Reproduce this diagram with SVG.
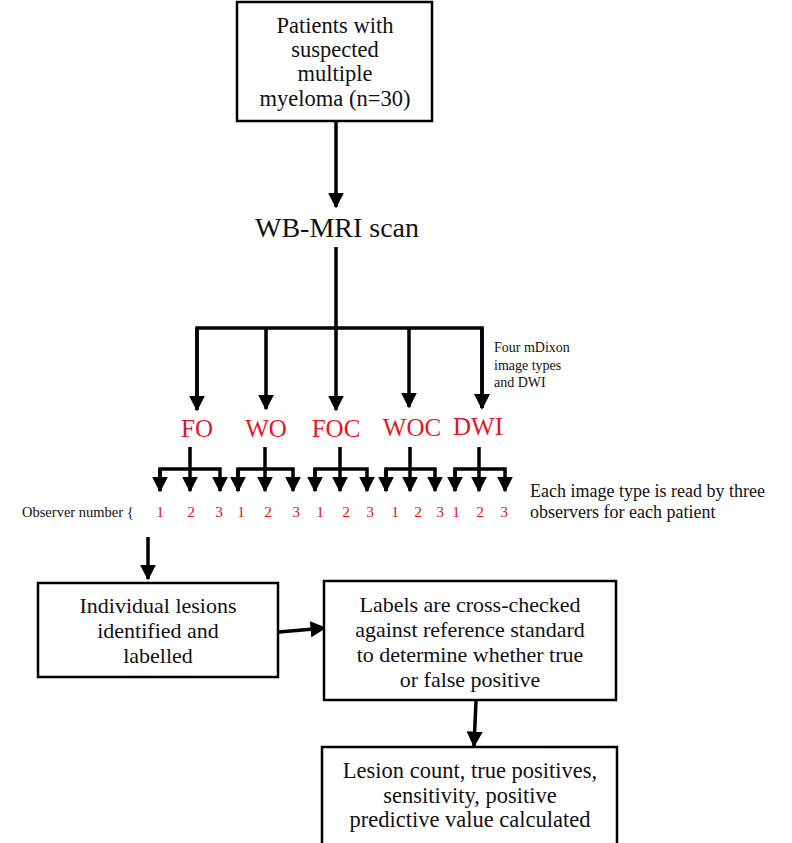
<svg xmlns="http://www.w3.org/2000/svg" width="792" height="843" viewBox="0 0 792 843">
<style>
.box{fill:#fff;stroke:#000;stroke-width:2.5}
.t{font-family:"Liberation Serif","DejaVu Serif",serif;fill:#111;text-anchor:middle}
.s{text-anchor:start}
.big{font-size:22.5px}
.bx{font-size:22px}
.red{fill:#e8141e;font-size:25px}
.num{fill:#e8141e;font-size:15.5px}
.ln{stroke:#000;stroke-width:3.5;fill:none}
</style>
<defs>
<marker id="ah" viewBox="0 0 10 10" refX="9" refY="5" markerWidth="4.6" markerHeight="4.6" markerUnits="strokeWidth" orient="auto">
<path d="M0,0 L10,5 L0,10 Z" fill="#000"/>
</marker>
</defs>
<rect width="792" height="843" fill="#fff"/>

<g id="connectors">
<line class="ln" x1="336" y1="121" x2="336" y2="207" marker-end="url(#ah)"/>
<line class="ln" x1="336" y1="247" x2="336" y2="328"/>
<polyline class="ln" points="197,410 197,328 482,328 482,408" marker-end="url(#ah)"/>
<line class="ln" x1="197" y1="328" x2="197" y2="410" marker-end="url(#ah)"/>
<line class="ln" x1="266" y1="328" x2="266" y2="409" marker-end="url(#ah)"/>
<line class="ln" x1="336" y1="328" x2="336" y2="410" marker-end="url(#ah)"/>
<line class="ln" x1="409" y1="328" x2="409" y2="407" marker-end="url(#ah)"/>
<line class="ln" x1="482" y1="328" x2="482" y2="408" marker-end="url(#ah)"/>

<g id="sub1">
<line class="ln" x1="190" y1="447" x2="190" y2="491" marker-end="url(#ah)"/>
<polyline class="ln" points="160,491 160,469 220,469 220,491" marker-end="url(#ah)"/>
<line class="ln" x1="160" y1="469" x2="160" y2="491" marker-end="url(#ah)"/>
</g>
<g id="sub2">
<line class="ln" x1="265" y1="447" x2="265" y2="491" marker-end="url(#ah)"/>
<polyline class="ln" points="238,491 238,469 293,469 293,491" marker-end="url(#ah)"/>
<line class="ln" x1="238" y1="469" x2="238" y2="491" marker-end="url(#ah)"/>
</g>
<g id="sub3">
<line class="ln" x1="340" y1="447" x2="340" y2="491" marker-end="url(#ah)"/>
<polyline class="ln" points="315,491 315,469 367,469 367,491" marker-end="url(#ah)"/>
<line class="ln" x1="315" y1="469" x2="315" y2="491" marker-end="url(#ah)"/>
</g>
<g id="sub4">
<line class="ln" x1="410" y1="447" x2="410" y2="491" marker-end="url(#ah)"/>
<polyline class="ln" points="386,491 386,469 435,469 435,491" marker-end="url(#ah)"/>
<line class="ln" x1="386" y1="469" x2="386" y2="491" marker-end="url(#ah)"/>
</g>
<g id="sub5">
<line class="ln" x1="479" y1="447" x2="479" y2="491" marker-end="url(#ah)"/>
<polyline class="ln" points="455,491 455,469 505,469 505,491" marker-end="url(#ah)"/>
<line class="ln" x1="455" y1="469" x2="455" y2="491" marker-end="url(#ah)"/>
</g>

<line class="ln" x1="148" y1="537" x2="148" y2="579" marker-end="url(#ah)"/>
<line class="ln" x1="279" y1="632" x2="325" y2="628" marker-end="url(#ah)"/>
<line class="ln" x1="476" y1="701" x2="474" y2="746" marker-end="url(#ah)"/>
</g>

<g id="patients">
<rect class="box" x="237" y="2" width="195" height="119"/>
<text class="t big" x="335" y="33">Patients with</text>
<text class="t big" x="335" y="57">suspected</text>
<text class="t big" x="335" y="81">multiple</text>
<text class="t big" x="335" y="106">myeloma (n=30)</text>
</g>

<g id="wbmri">
<text class="t" x="337" y="237" font-size="28">WB-MRI scan</text>
</g>

<g id="note1">
<text class="t s" x="494" y="352" font-size="14">Four mDixon</text>
<text class="t s" x="494" y="370" font-size="14">image types</text>
<text class="t s" x="494" y="387" font-size="14">and DWI</text>
</g>

<g id="fo"><text class="t red" x="197" y="437">FO</text></g>
<g id="wo"><text class="t red" x="266" y="437">WO</text></g>
<g id="foc"><text class="t red" x="336" y="437">FOC</text></g>
<g id="woc"><text class="t red" x="412" y="436">WOC</text></g>
<g id="dwi"><text class="t red" x="478" y="435">DWI</text></g>

<g id="observers">
<text class="t s" x="22" y="517" font-size="14.5">Observer number {</text>
<text class="t num" x="160" y="517">1</text>
<text class="t num" x="191" y="517">2</text>
<text class="t num" x="219" y="517">3</text>
<text class="t num" x="241" y="517">1</text>
<text class="t num" x="268" y="517">2</text>
<text class="t num" x="296" y="517">3</text>
<text class="t num" x="320" y="517">1</text>
<text class="t num" x="346" y="517">2</text>
<text class="t num" x="370" y="517">3</text>
<text class="t num" x="395" y="517">1</text>
<text class="t num" x="418" y="517">2</text>
<text class="t num" x="440" y="517">3</text>
<text class="t num" x="456" y="517">1</text>
<text class="t num" x="480" y="517">2</text>
<text class="t num" x="504" y="517">3</text>
</g>

<g id="note2">
<text class="t s" x="530" y="497" font-size="18">Each image type is read by three</text>
<text class="t s" x="530" y="518" font-size="18">observers for each patient</text>
</g>

<g id="lesions">
<rect class="box" x="38" y="583" width="240" height="94"/>
<text class="t bx" x="158" y="613">Individual lesions</text>
<text class="t bx" x="158" y="638">identified and</text>
<text class="t bx" x="158" y="663">labelled</text>
</g>

<g id="crosscheck">
<rect class="box" x="324" y="581" width="292" height="119"/>
<text class="t bx" x="470" y="612">Labels are cross-checked</text>
<text class="t bx" x="470" y="637">against reference standard</text>
<text class="t bx" x="470" y="662">to determine whether true</text>
<text class="t bx" x="470" y="687">or false positive</text>
</g>

<g id="results">
<rect class="box" x="322" y="747" width="295" height="100"/>
<text class="t" x="470" y="778" font-size="22.5">Lesion count, true positives,</text>
<text class="t" x="470" y="803" font-size="22.5">sensitivity, positive</text>
<text class="t" x="470" y="827" font-size="22.5">predictive value calculated</text>
</g>
</svg>
